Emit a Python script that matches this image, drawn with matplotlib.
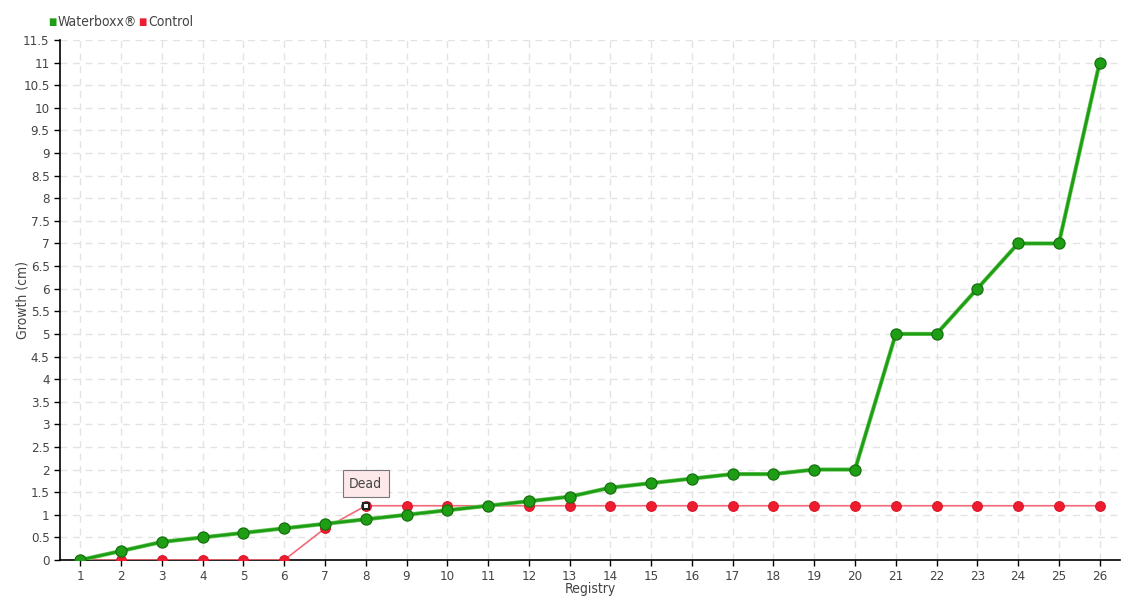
import numpy as np
import matplotlib
matplotlib.use("Agg")
import matplotlib.pyplot as plt

plt.rcParams['font.family'] = ['DejaVu Sans']
plt.rcParams['font.stretch'] = 'condensed'

registry = list(range(1, 27))
waterboxx = [0, 0.2, 0.4, 0.5, 0.6, 0.7, 0.8, 0.9, 1.0, 1.1, 1.2, 1.3, 1.4,
             1.6, 1.7, 1.8, 1.9, 1.9, 2.0, 2.0, 5.0, 5.0, 6.0, 7.0, 7.0, 11.0]
control = [0, 0, 0, 0, 0, 0, 0.7, 1.2, 1.2, 1.2, 1.2, 1.2, 1.2,
           1.2, 1.2, 1.2, 1.2, 1.2, 1.2, 1.2, 1.2, 1.2, 1.2, 1.2, 1.2, 1.2]
dead_idx = 7  # registry 8

green = '#1e9e14'
red = '#ee1c2e'

fig = plt.figure(figsize=(11.4, 6), dpi=100)
ax = fig.add_axes([60 / 1140, 40 / 600, 1060 / 1140, 520 / 600])

ax.plot(registry, control, color='#f26a78', lw=1.2, zorder=3)
ax.plot(registry, control, 'o', ms=7, color=red, mec='#d81828', mew=0.8, zorder=4)
ax.plot(registry[dead_idx], control[dead_idx], 's', ms=5, mfc='white',
        mec='#222222', mew=1.5, zorder=6)

ax.plot(registry, waterboxx, color='#6cc85c', lw=3.0, zorder=4)
ax.plot(registry, waterboxx, color=green, lw=2.0, zorder=4)
ax.plot(registry, waterboxx, 'o', ms=8, color=green, mec='#177010', mew=0.9, zorder=5)

# tooltip for the dead control plant
ax.annotate('Dead', xy=(registry[dead_idx], control[dead_idx]), xytext=(0, 16),
            textcoords='offset points', ha='center', va='center',
            fontsize=10, color='#444444',
            bbox=dict(boxstyle='square,pad=0.45', fc='#fde8ea', ec='#777777', lw=0.8),
            zorder=7)

ax.set_xlim(0.5, 26.5)
ax.set_ylim(0, 11.5)
ax.set_xticks(registry)
yt = np.arange(0, 11.51, 0.5)
ax.set_yticks(yt)
ax.set_yticklabels([f'{v:g}' for v in yt])
ax.tick_params(labelsize=9.5, colors='#444444', length=4, width=1)
ax.tick_params(axis='both', color='black')
ax.grid(True, color='#e3e3e3', ls=(0, (5, 4)), lw=1)
ax.set_axisbelow(True)
for s in ['top', 'right']:
    ax.spines[s].set_visible(False)
ax.spines['left'].set_linewidth(1.2)
ax.spines['bottom'].set_linewidth(1.2)

ax.set_xlabel('Registry', fontsize=10, color='#444444', labelpad=-1)
ax.set_ylabel('Growth (cm)', fontsize=10, color='#444444')
ax.yaxis.set_label_coords(-30 / 1060, 0.5)

# legend at top left
ly = 1 - 22 / 600
fig.text(48 / 1140, ly, '■', color=green, fontsize=7, va='center')
fig.text(58 / 1140, ly, 'Waterboxx®', color='#444444', fontsize=10, va='center')
fig.text(138 / 1140, ly, '■', color=red, fontsize=7, va='center')
fig.text(148 / 1140, ly, 'Control', color='#444444', fontsize=10, va='center')

fig.savefig('out.png', dpi=100)
